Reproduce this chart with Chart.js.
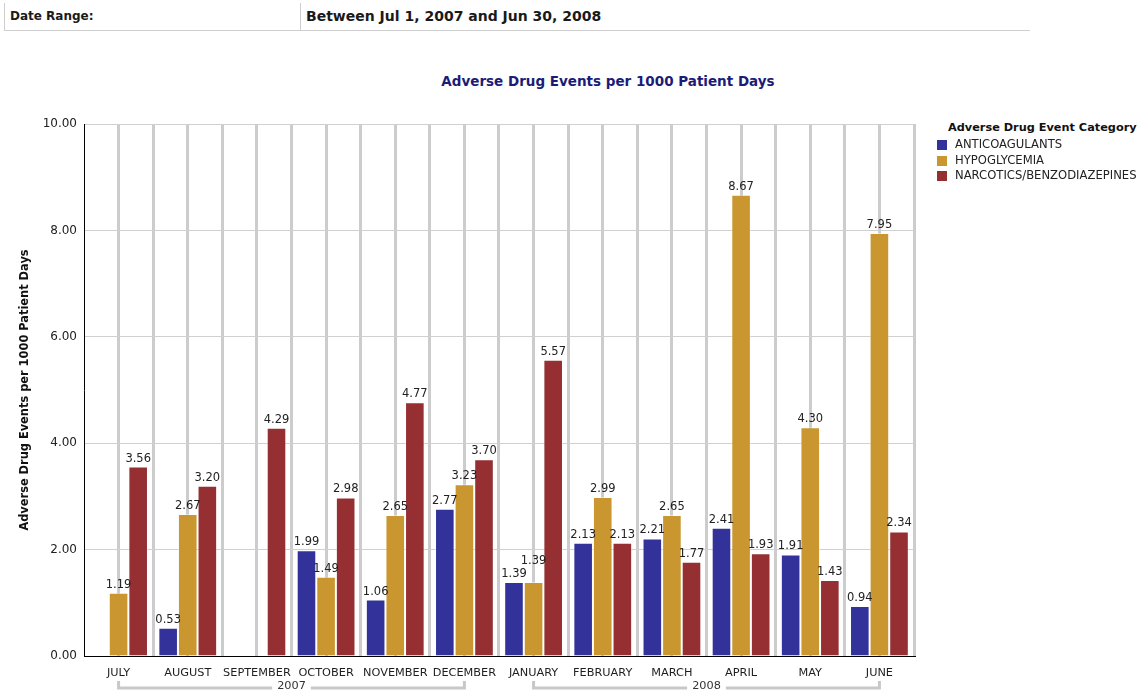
<!DOCTYPE html>
<html>
<head>
<meta charset="utf-8">
<title>Adverse Drug Events per 1000 Patient Days</title>
<script src="https://cdn.jsdelivr.net/npm/chart.js@4.4.1/dist/chart.umd.min.js"></script>
<style>
  html, body { margin: 0; padding: 0; background: #ffffff; }
  body { width: 1139px; height: 692px; position: relative; overflow: hidden; font-family: "DejaVu Sans", Verdana, sans-serif; }
  .filter { position: absolute; left: 4px; top: 3px; width: 1026px; height: 27px; border-bottom: 1px solid #cfcfcf; }
  .filter .cell { position: absolute; top: 0; height: 27px; line-height: 27px; font-weight: bold; color: #1a1a1a; white-space: nowrap; }
  .filter .lbl { left: 0; width: 295px; border-left: 1px solid #cfcfcf; padding-left: 5px; font-size: 12px; }
  .filter .val { left: 296px; border-left: 1px solid #cfcfcf; padding-left: 5px; font-size: 14px; }
  #chartTitle { position: absolute; left: 358px; width: 500px; top: 73px; text-align: center; font-weight: bold; font-size: 13.5px; color: #1c1c78; white-space: nowrap; }
  #chartBox { position: absolute; left: 0; top: 40px; }
  #legend { position: absolute; left: 948px; top: 120px; }
  #legend .ttl { font-size: 11.3px; font-weight: bold; color: #111; height: 17px; line-height: 15px; white-space: nowrap; }
  #legend .item { position: relative; height: 15.5px; line-height: 15.5px; font-size: 11.6px; color: #222; white-space: nowrap; padding-left: 7px; }
  #legend .sw { position: absolute; left: -11px; top: 3px; width: 10px; height: 10px; }
</style>
</head>
<body>
<div class="filter">
  <div class="cell lbl">Date Range:</div>
  <div class="cell val">Between Jul 1, 2007 and Jun 30, 2008</div>
</div>
<div id="chartTitle">Adverse Drug Events per 1000 Patient Days</div>
<div id="chartBox"><canvas id="chart" width="940" height="652"></canvas></div>
<div id="legend"></div>

<script>
// Months of the reporting window (Jul 2007 – Jun 2008)
const months = ['JULY', 'AUGUST', 'SEPTEMBER', 'OCTOBER', 'NOVEMBER', 'DECEMBER',
                'JANUARY', 'FEBRUARY', 'MARCH', 'APRIL', 'MAY', 'JUNE'];

// Year groupings shown beneath the month labels
const yearLabels = ['2007', '2008'];
const yearSpans = [[0, 5], [6, 11]];

// Event rates per 1000 patient days (null = no events recorded)
const anticoagulants = [null, 0.53, null, 1.99, 1.06, 2.77, 1.39, 2.13, 2.21, 2.41, 1.91, 0.94];
const hypoglycemia   = [1.19, 2.67, null, 1.49, 2.65, 3.23, 1.39, 2.99, 2.65, 8.67, 4.30, 7.95];
const narcotics      = [3.56, 3.20, 4.29, 2.98, 4.77, 3.70, 5.57, 2.13, 1.77, 1.93, 1.43, 2.34];

const seriesNames = ['ANTICOAGULANTS', 'HYPOGLYCEMIA', 'NARCOTICS/BENZODIAZEPINES'];
const seriesColors = ['#32329a', '#c9962f', '#952f31'];

// Y axis ticks
const yTicks = [0, 2, 4, 6, 8, 10];

const FONT = '"DejaVu Sans", Verdana, sans-serif';

// Value labels above each bar, nudged upward when neighbours collide
const valueLabels = {
  id: 'valueLabels',
  afterDatasetsDraw(chart) {
    const ctx = chart.ctx;
    ctx.save();
    ctx.font = '11.5px ' + FONT;
    ctx.fillStyle = '#222222';
    ctx.textAlign = 'center';
    ctx.textBaseline = 'middle';
    const n = chart.data.labels.length;
    for (let i = 0; i < n; i++) {
      const placed = [];
      chart.data.datasets.forEach((ds, d) => {
        const v = ds.data[i];
        if (v === null || v === undefined) return;
        const el = chart.getDatasetMeta(d).data[i];
        const txt = v.toFixed(2);
        const w = ctx.measureText(txt).width;
        let y = el.y - 8;
        let moved = true;
        while (moved) {
          moved = false;
          for (const b of placed) {
            const overlapX = el.x - w / 2 < b.r && el.x + w / 2 > b.l;
            const overlapY = y - 6 < b.b && y + 6 > b.t;
            if (overlapX && overlapY) { y = b.t - 7; moved = true; }
          }
        }
        placed.push({ l: el.x - w / 2, r: el.x + w / 2, t: y - 6, b: y + 6 });
        ctx.fillText(txt, el.x, y);
      });
    }
    ctx.restore();
  }
};

// Year brackets under the month labels
const yearBrackets = {
  id: 'yearBrackets',
  afterDraw(chart) {
    const ctx = chart.ctx;
    const xs = chart.scales.x;
    const yLine = 648, yTop = 641;
    ctx.save();
    ctx.font = '11.3px ' + FONT;
    ctx.textAlign = 'center';
    ctx.textBaseline = 'middle';
    yearLabels.forEach((lab, k) => {
      const x0 = xs.getPixelForValue(yearSpans[k][0]);
      const x1 = xs.getPixelForValue(yearSpans[k][1]);
      const xm = (x0 + x1) / 2;
      const w = ctx.measureText(lab).width;
      ctx.strokeStyle = '#c8c8c8';
      ctx.lineWidth = 3;
      ctx.beginPath();
      ctx.moveTo(x0, yTop); ctx.lineTo(x0, yLine); ctx.lineTo(xm - w / 2 - 5, yLine);
      ctx.moveTo(xm + w / 2 + 5, yLine); ctx.lineTo(x1, yLine); ctx.lineTo(x1, yTop);
      ctx.stroke();
      ctx.fillStyle = '#333333';
      ctx.fillText(lab, xm, yLine - 2);
    });
    ctx.restore();
  }
};

const datasets = [anticoagulants, hypoglycemia, narcotics].map((vals, k) => ({
  label: seriesNames[k],
  data: vals,
  backgroundColor: seriesColors[k],
  borderColor: 'rgba(255,255,255,0.45)',
  borderWidth: 1,
  categoryPercentage: 0.85,
  barPercentage: 1.0,
  xAxisID: 'x',
  yAxisID: 'y'
}));

new Chart(document.getElementById('chart'), {
  type: 'bar',
  data: { labels: months, datasets },
  options: {
    responsive: false,
    animation: false,
    layout: { padding: { left: 0, right: 26, top: 84, bottom: 0 } },
    plugins: {
      legend: { display: false },
      title: { display: false },
      tooltip: { enabled: false }
    },
    scales: {
      x: {
        type: 'category',
        position: 'bottom',
        offset: true,
        grid: {
          offset: true,
          drawTicks: false,
          lineWidth: 3,
          color: (c) => (c.index === 0 ? 'rgba(0,0,0,0)' : '#cccccc')
        },
        border: { display: true, color: '#000000', width: 1 },
        ticks: {
          autoSkip: false, maxRotation: 0, minRotation: 0, padding: 10,
          color: '#1e1e1e', font: { family: FONT, size: 11.3 }
        },
        afterFit(scale) { scale.height = 36; }
      },
      xc: {
        type: 'category',
        position: 'bottom',
        labels: months,
        offset: true,
        grid: { offset: false, drawTicks: false, lineWidth: 3, color: '#cccccc' },
        border: { display: false },
        ticks: { display: false },
        afterFit(scale) { scale.height = 0; }
      },
      y: {
        min: 0,
        max: 10,
        afterBuildTicks(scale) { scale.ticks = yTicks.map(v => ({ value: v })); },
        grid: { drawTicks: false, color: '#d0d0d0', lineWidth: 1 },
        border: { display: true, color: '#000000', width: 1 },
        ticks: {
          padding: 7, color: '#222222', font: { family: FONT, size: 12 },
          callback: (v) => Number(v).toFixed(2)
        },
        title: {
          display: true,
          text: 'Adverse Drug Events per 1000 Patient Days',
          color: '#111111',
          font: { family: FONT, size: 11.4, weight: 'bold' },
          padding: { top: 18, bottom: 0 }
        },
        afterFit(scale) { scale.width = 84; }
      }
    }
  },
  plugins: [valueLabels, yearBrackets]
});

// Legend built from the same series definitions
const legend = document.getElementById('legend');
const ttl = document.createElement('div');
ttl.className = 'ttl';
ttl.textContent = 'Adverse Drug Event Category';
legend.appendChild(ttl);
seriesNames.forEach((name, k) => {
  const row = document.createElement('div');
  row.className = 'item';
  const sw = document.createElement('span');
  sw.className = 'sw';
  sw.style.background = seriesColors[k];
  row.appendChild(sw);
  row.appendChild(document.createTextNode(name));
  legend.appendChild(row);
});
</script>
</body>
</html>
